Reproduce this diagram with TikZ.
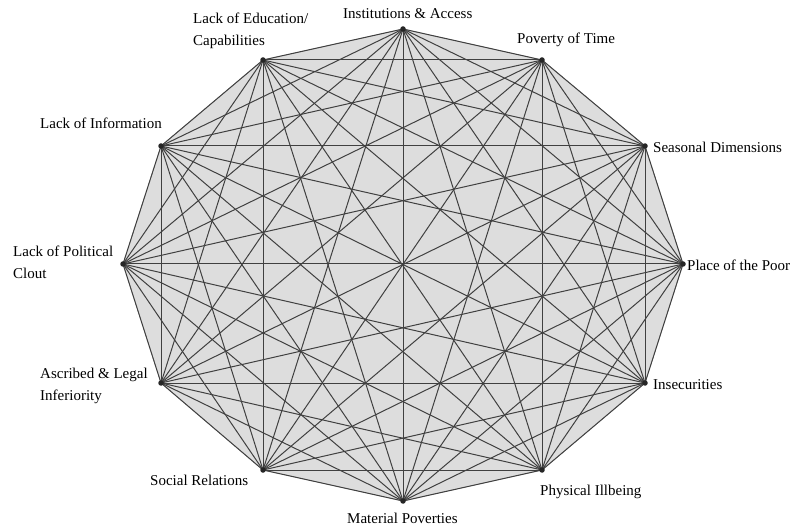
\documentclass[tikz,border=0pt]{standalone}
\usepackage{fontspec}
\setmainfont{Liberation Serif}
\begin{document}
\begin{tikzpicture}[x=1pt,y=-1pt,
  vdot/.style={circle,fill=black!85,inner sep=0pt,minimum size=5.5pt},
  lbl/.style={font=\fontsize{15}{22}\selectfont,inner sep=0pt,align=left},
  diag/.style={draw=black!75,line width=1pt},
  rim/.style={draw=gray!65,line width=0.6pt,fill=gray!27}]
\useasboundingbox (0,0) rectangle (790,529);
\foreach \i/\x/\y in {0/403/29, 1/542/60, 2/645/146, 3/683/264, 4/645/383, 5/542/470,
                      6/403/501, 7/263/470, 8/161/383, 9/123/264, 10/161/146, 11/263/60}
  {\coordinate (p\i) at (\x,\y);}
\path[rim] (p0) -- (p1) -- (p2) -- (p3) -- (p4) -- (p5) -- (p6) -- (p7) -- (p8) -- (p9) -- (p10) -- (p11) -- cycle;
\foreach \i in {0,...,10}{
  \pgfmathtruncatemacro\s{\i+1}
  \foreach \j in {\s,...,11}{\draw[diag] (p\i) -- (p\j);}
}
\foreach \i in {0,...,11}{\node[vdot] (v\i) at (p\i) {};}
% labels
\node[lbl,anchor=west] (l0) at (343,14) {Institutions \& Access};
\node[lbl,anchor=west] (l11) at (193,31) {Lack of Education/\\Capabilities};
\node[lbl,anchor=west] (l1) at (517,40) {Poverty of Time};
\node[lbl,anchor=west] (l10) at (40,123) {Lack of Information};
\node[lbl,anchor=west] (l2) at (653,147) {Seasonal Dimensions};
\node[lbl,anchor=west] (l3) at (687,265) {Place of the Poor};
\node[lbl,anchor=west] (l9) at (13,262) {Lack of Political\\Clout};
\node[lbl,anchor=west] (l8) at (40,386) {Ascribed \& Legal\\Inferiority};
\node[lbl,anchor=west] (l4) at (653,385) {Insecurities};
\node[lbl,anchor=west] (l7) at (150,480) {Social Relations};
\node[lbl,anchor=west] (l5) at (540,492) {Physical Illbeing};
\node[lbl,anchor=west] (l6) at (347,518) {Material Poverties};
\end{tikzpicture}
\end{document}
